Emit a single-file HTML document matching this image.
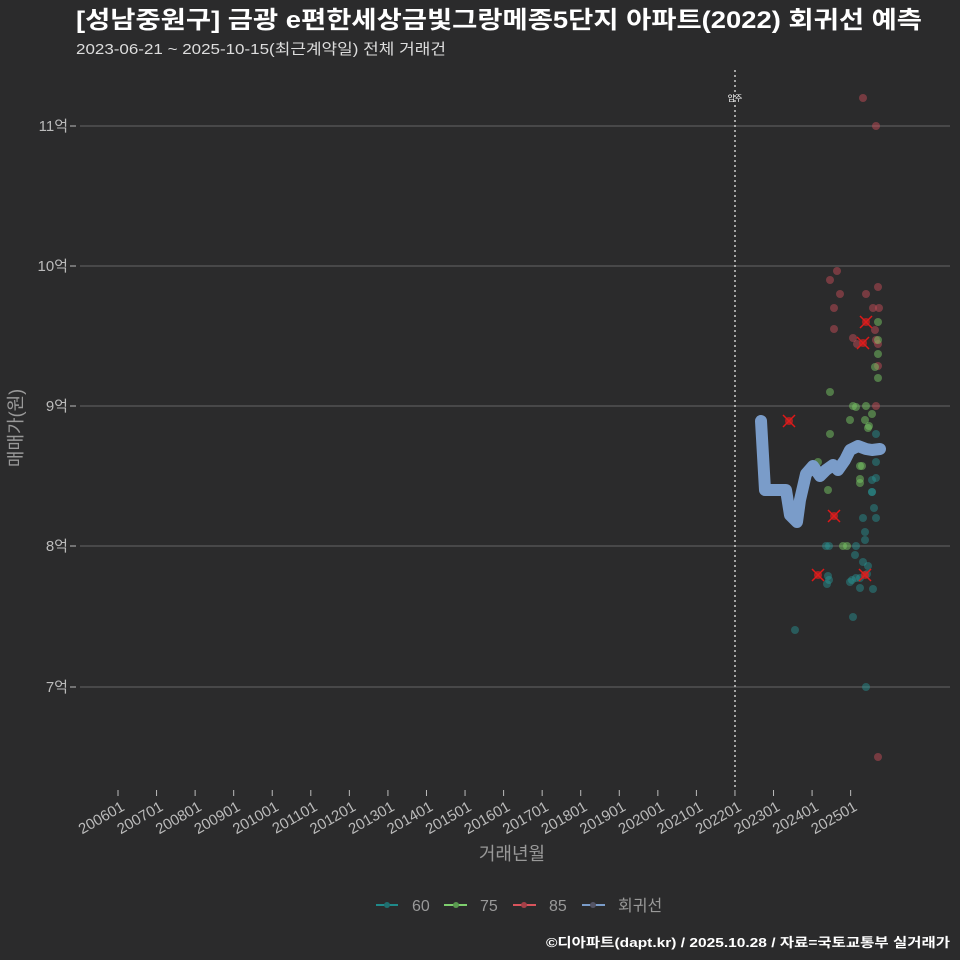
<!DOCTYPE html>
<html><head><meta charset="utf-8"><style>
body{margin:0;background:#2b2b2c;}
svg{display:block;font-family:"Liberation Sans","Noto Sans CJK KR",sans-serif;}
</style></head><body>
<svg width="960" height="960" viewBox="0 0 960 960">
<rect width="960" height="960" fill="#2b2b2c"/>
<text x="76" y="28" font-size="24" font-weight="bold" fill="#fff" textLength="846" lengthAdjust="spacingAndGlyphs">[성남중원구] 금광 e편한세상금빛그랑메종5단지 아파트(2022) 회귀선 예측</text>
<text x="76" y="54" font-size="15" fill="#ddd" textLength="370" lengthAdjust="spacingAndGlyphs">2023-06-21 ~ 2025-10-15(최근계약일) 전체 거래건</text>
<g stroke="#666" stroke-width="1">
<line x1="80" x2="950" y1="126" y2="126"/><line x1="80" x2="950" y1="266" y2="266"/>
<line x1="80" x2="950" y1="406" y2="406"/><line x1="80" x2="950" y1="546" y2="546"/>
<line x1="80" x2="950" y1="687" y2="687"/>
</g>
<g fill="#bbb" font-size="15" text-anchor="end">
<text x="68" y="131">11억</text><text x="68" y="271">10억</text><text x="68" y="411">9억</text><text x="68" y="551">8억</text><text x="68" y="692">7억</text>
</g>
<g stroke="#bbb"><line x1="70" x2="76" y1="126" y2="126"/><line x1="70" x2="76" y1="266" y2="266"/><line x1="70" x2="76" y1="406" y2="406"/><line x1="70" x2="76" y1="546" y2="546"/><line x1="70" x2="76" y1="687" y2="687"/></g>
<text transform="translate(22,428) rotate(-90)" font-size="18" fill="#999" text-anchor="middle">매매가(원)</text>
<line x1="735" x2="735" y1="70" y2="790" stroke="#ccc" stroke-dasharray="2,3" stroke-width="1.5"/>
<text x="735" y="101" font-size="8" fill="#fff" text-anchor="middle">입주</text>
<g id="xt" fill="#bbb" font-size="15" text-anchor="end"></g>
<text x="512" y="860" font-size="18" fill="#999" text-anchor="middle">거래년월</text>
<g id="pts"></g>
<path d="M761,421 L765,490 L786,490 L790,515 L797,522 L800,500 L806,474 L813,466 L820,476 L826,470 L833,465 L838,470 L845,460 L850,450 L858,446 L866,449 L872,450 L880,449" fill="none" stroke="#7a9cc9" stroke-width="12" stroke-linecap="round" stroke-linejoin="round"/>
<g font-size="16" fill="#999">
<line x1="376" x2="398" y1="905" y2="905" stroke="#1f8a8a" stroke-width="2"/><circle cx="387" cy="905" r="3" fill="#1f6f6f"/><text x="412" y="911">60</text>
<line x1="444" x2="467" y1="905" y2="905" stroke="#7ecf6e" stroke-width="2"/><circle cx="456" cy="905" r="3" fill="#5a9a50"/><text x="480" y="911">75</text>
<line x1="513" x2="536" y1="905" y2="905" stroke="#d9545c" stroke-width="2"/><circle cx="524" cy="905" r="3" fill="#a54048"/><text x="549" y="911">85</text>
<line x1="582" x2="605" y1="905" y2="905" stroke="#7a9cc9" stroke-width="2"/><circle cx="593" cy="905" r="3" fill="#556"/><text x="618" y="911">회귀선</text>
</g>
<text x="950" y="947" font-size="13" font-weight="bold" fill="#fff" text-anchor="end" textLength="404" lengthAdjust="spacingAndGlyphs">©디아파트(dapt.kr) / 2025.10.28 / 자료=국토교통부 실거래가</text>
</svg>
<script>
const ns="http://www.w3.org/2000/svg";
const xt=document.getElementById('xt');
for(let i=0;i<20;i++){const y=2006+i;const x=118+i*38.56;
 const l=document.createElementNS(ns,'line');l.setAttribute('x1',x);l.setAttribute('x2',x);l.setAttribute('y1',790);l.setAttribute('y2',796);l.setAttribute('stroke','#bbb');xt.appendChild(l);
 const t=document.createElementNS(ns,'text');t.setAttribute('transform',`translate(${x+2},${800}) rotate(-30)`);t.textContent=y+'01';t.setAttribute('y',11);xt.appendChild(t);}
const P=document.getElementById('pts');
const C={t:'rgba(40,150,150,0.45)',g:'rgba(120,200,100,0.5)',r:'rgba(210,80,90,0.45)'};
const pts=[
['r',863,98],['r',876,126],['r',837,271],['r',830,280],['r',840,294],['r',834,308],['r',866,294],['r',878,287],['r',873,308],['r',879,308],['r',834,329],['r',853,338],['r',857,344],['r',875,330],['r',876,340],['r',878,344],['r',876,406],['r',878,366],
['g',878,322],['g',878,340],['g',878,354],['g',875,367],['g',878,378],['g',830,392],['g',853,406],['g',856,407],['g',866,406],['g',872,414],['g',850,420],['g',865,420],['g',869,426],['g',868,428],['g',830,434],['g',818,462],['g',860,466],['g',862,466],['g',860,479],['g',860,483],['g',828,490],['g',847,546],['g',843,546],
['t',876,434],['t',876,462],['t',876,478],['t',872,480],['t',872,492],['t',872,492],['t',874,508],['t',863,518],['t',865,532],['t',865,540],['t',876,518],['t',829,546],['t',826,546],['t',856,546],['t',855,555],['t',863,562],['t',868,566],['t',867,574],['t',852,580],['t',856,578],['t',860,578],['t',828,576],['t',829,580],['t',827,584],['t',850,582],['t',860,588],['t',873,589],['t',853,617],['t',795,630],['t',866,687],['r',878,757]];
for(const [c,x,y] of pts){const e=document.createElementNS(ns,'circle');e.setAttribute('cx',x);e.setAttribute('cy',y);e.setAttribute('r',4);e.setAttribute('fill',C[c]);P.appendChild(e);}
const X=[[789,421],[834,516],[818,575],[866,322],[863,343],[865,575]];
for(const [x,y] of X){const e=document.createElementNS(ns,'path');e.setAttribute('d',`M${x-6},${y-6}L${x+6},${y+6}M${x+6},${y-6}L${x-6},${y+6}`);e.setAttribute('stroke','#e01818');e.setAttribute('stroke-width','1.5');P.appendChild(e);
const c=document.createElementNS(ns,'circle');c.setAttribute('cx',x);c.setAttribute('cy',y);c.setAttribute('r',4);c.setAttribute('fill','rgba(220,30,30,0.7)');P.appendChild(c);}
</script>
</body></html>
